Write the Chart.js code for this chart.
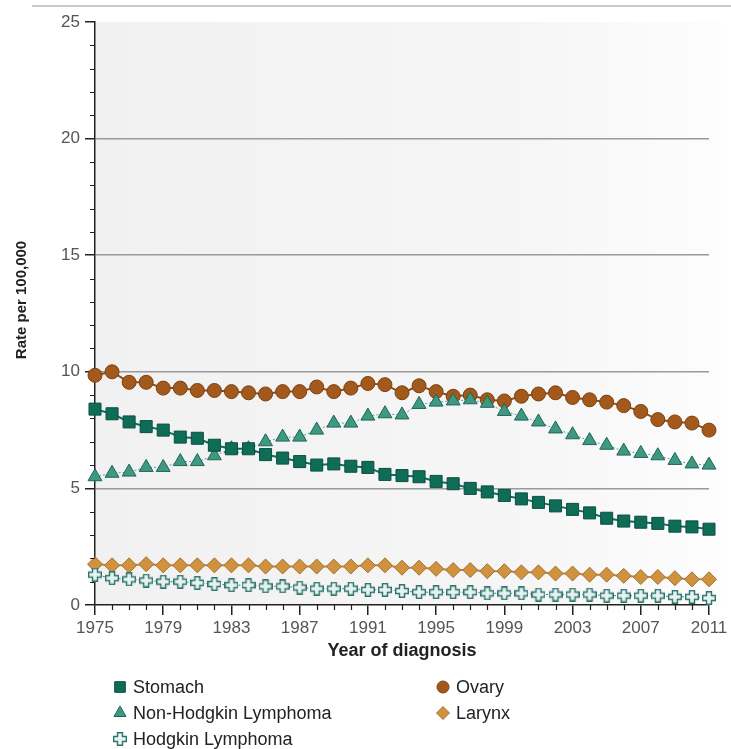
<!DOCTYPE html>
<html>
<head>
<meta charset="utf-8">
<script src="https://cdn.jsdelivr.net/npm/chart.js@4.4.1/dist/chart.umd.min.js"></script>
<style>
  html, body { margin: 0; padding: 0; background: #fff; }
  #wrap { width: 731px; height: 749px; }
</style>
</head>
<body>
<div id="wrap"><canvas id="c" width="731" height="749"></canvas></div>
<script>
// Cancer incidence rates by year of diagnosis, 1975-2011.

const years = [1975, 1976, 1977, 1978, 1979, 1980, 1981, 1982, 1983, 1984,
               1985, 1986, 1987, 1988, 1989, 1990, 1991, 1992, 1993, 1994,
               1995, 1996, 1997, 1998, 1999, 2000, 2001, 2002, 2003, 2004,
               2005, 2006, 2007, 2008, 2009, 2010, 2011];

const stomach = [8.4, 8.2, 7.85, 7.65, 7.5, 7.2, 7.15, 6.85, 6.7, 6.7,
                 6.45, 6.3, 6.15, 6.0, 6.05, 5.95, 5.9, 5.6, 5.55, 5.5,
                 5.3, 5.2, 5.0, 4.85, 4.7, 4.55, 4.4, 4.25, 4.1, 3.95,
                 3.72, 3.6, 3.55, 3.5, 3.38, 3.35, 3.25];
const nhl = [5.5, 5.65, 5.7, 5.9, 5.9, 6.15, 6.15, 6.4, 6.7, 6.7,
             7.0, 7.2, 7.2, 7.5, 7.8, 7.8, 8.1, 8.2, 8.15, 8.6,
             8.7, 8.75, 8.8, 8.65, 8.3, 8.1, 7.85, 7.55, 7.3, 7.05,
             6.85, 6.6, 6.5, 6.4, 6.2, 6.05, 6.0];
const hodgkin = [1.3, 1.15, 1.1, 1.05, 1.0, 1.0, 0.95, 0.9, 0.85, 0.85,
                 0.8, 0.8, 0.75, 0.7, 0.7, 0.7, 0.65, 0.65, 0.6, 0.55,
                 0.55, 0.55, 0.55, 0.5, 0.5, 0.5, 0.45, 0.45, 0.45, 0.45,
                 0.4, 0.4, 0.4, 0.4, 0.35, 0.35, 0.3];
const ovary = [9.85, 10.0, 9.55, 9.55, 9.3, 9.3, 9.2, 9.2, 9.15, 9.1,
               9.05, 9.15, 9.15, 9.35, 9.15, 9.3, 9.5, 9.45, 9.1, 9.4,
               9.15, 8.95, 9.0, 8.8, 8.75, 8.95, 9.05, 9.1, 8.9, 8.8,
               8.7, 8.55, 8.3, 7.95, 7.85, 7.8, 7.5];
const larynx = [1.75, 1.7, 1.7, 1.75, 1.7, 1.7, 1.7, 1.7, 1.7, 1.7,
                1.65, 1.65, 1.65, 1.65, 1.65, 1.65, 1.7, 1.7, 1.6, 1.6,
                1.55, 1.5, 1.5, 1.45, 1.45, 1.4, 1.4, 1.35, 1.35, 1.3,
                1.3, 1.25, 1.2, 1.2, 1.15, 1.1, 1.1];

const FONT = "'Liberation Sans', Arial, sans-serif";

function makeCross(size, bar, fill, stroke) {
  const c = document.createElement('canvas');
  c.width = c.height = size;
  const g = c.getContext('2d');
  const a = (size - bar) / 2, b = a + bar, s = 0.7, e = size - 0.7;
  g.beginPath();
  g.moveTo(a, s); g.lineTo(b, s); g.lineTo(b, a); g.lineTo(e, a);
  g.lineTo(e, b); g.lineTo(b, b); g.lineTo(b, e); g.lineTo(a, e);
  g.lineTo(a, b); g.lineTo(s, b); g.lineTo(s, a); g.lineTo(a, a);
  g.closePath();
  g.fillStyle = fill; g.fill();
  g.lineWidth = 1.4; g.strokeStyle = stroke; g.stroke();
  return c;
}
const crossImg = makeCross(14, 5, '#e6f3f0', '#2f736e');

const pts = vals => years.map((x, i) => ({ x, y: vals[i] }));

function series(label, vals, style, radius, fill, border, line, dash) {
  return {
    label, data: pts(vals), clip: false,
    pointStyle: style, pointRadius: radius, pointHoverRadius: radius,
    pointBackgroundColor: fill, pointBorderColor: border, pointBorderWidth: 1,
    borderColor: line, borderWidth: dash ? 1 : 2, borderDash: dash || [],
    tension: 0, fill: false,
  };
}

const datasets = [
  series('Stomach', stomach, 'rect', 8.5, '#0f6d57', '#0a4f40', '#0e6b55'),
  series('Non-Hodgkin Lymphoma', nhl, 'triangle', 8, '#3f9982', '#1d6655', '#5aa593', [2, 2]),
  series('Hodgkin Lymphoma', hodgkin, crossImg, 7, '#e6f3f0', '#2f736e', '#3a8580', [2, 2]),
  series('Ovary', ovary, 'circle', 7, '#a3581c', '#7a4212', '#8a4c18'),
  series('Larynx', larynx, 'rectRot', 7.5, '#d0923f', '#a0722e', '#c08a45'),
];

// legend layout: [dataset index, column x, row y]
const legendSlots = [[0, 120, 687], [3, 443, 687], [1, 120, 713], [4, 443, 713], [2, 120, 739]];

const decor = {
  id: 'decor',
  beforeDraw(chart) {
    const { ctx, chartArea: a } = chart;
    ctx.save();
    ctx.fillStyle = '#c9c9c9';
    ctx.fillRect(32, 5, 699, 2);
    const g = ctx.createLinearGradient(a.left, 0, a.right + 12, 0);
    g.addColorStop(0, '#f1f1f1');
    g.addColorStop(0.7, '#f6f6f6');
    g.addColorStop(1, '#fdfdfd');
    ctx.fillStyle = g;
    ctx.fillRect(a.left, a.top, a.right - a.left + 12, a.bottom - a.top);
    ctx.restore();
  },
  afterDraw(chart) {
    const { ctx } = chart;
    const xs = chart.scales.x, ys = chart.scales.y;
    ctx.save();
    // minor ticks
    ctx.strokeStyle = '#222';
    ctx.lineWidth = 1.2;
    ctx.beginPath();
    years.filter(y => (y - 1975) % 4 !== 0).forEach(y => {
      const px = Math.round(xs.getPixelForValue(y)) + 0.5;
      ctx.moveTo(px, ys.bottom); ctx.lineTo(px, ys.bottom + 5);
    });
    for (let v = 1; v < 25; v++) {
      if (v % 5 === 0) continue;
      const py = Math.round(ys.getPixelForValue(v)) + 0.5;
      ctx.moveTo(xs.left - 5, py); ctx.lineTo(xs.left, py);
    }
    ctx.stroke();
    // y title
    ctx.fillStyle = '#222';
    ctx.font = 'bold 15px ' + FONT;
    ctx.textAlign = 'center';
    ctx.textBaseline = 'middle';
    ctx.translate(22, 300);
    ctx.rotate(-Math.PI / 2);
    ctx.fillText('Rate per 100,000', 0, 0);
    ctx.restore();
    // legend
    ctx.save();
    ctx.font = '18px ' + FONT;
    ctx.textAlign = 'left';
    ctx.textBaseline = 'middle';
    legendSlots.forEach(([i, x, y]) => {
      const ds = datasets[i];
      ctx.fillStyle = ds.pointBackgroundColor;
      ctx.strokeStyle = ds.pointBorderColor;
      ctx.lineWidth = 1;
      Chart.helpers.drawPoint(ctx, { pointStyle: ds.pointStyle, radius: ds.pointRadius - 1, rotation: 0, borderWidth: 1 }, x, y);
      ctx.fillStyle = '#222';
      ctx.fillText(ds.label, x + 13, y + 1);
    });
    ctx.restore();
  },
};

new Chart(document.getElementById('c'), {
  type: 'line',
  data: { datasets },
  options: {
    responsive: false, animation: false, devicePixelRatio: 1,
    layout: { padding: { left: 0, right: 22, top: 22, bottom: 87 } },
    plugins: { legend: { display: false }, tooltip: { enabled: false } },
    scales: {
      x: {
        type: 'linear', min: 1975, max: 2011,
        ticks: { stepSize: 4, color: '#555', font: { size: 17, family: FONT }, padding: 3,
                 maxRotation: 0, autoSkip: false, callback: v => String(v) },
        grid: { drawOnChartArea: false, tickLength: 10, tickColor: '#222', lineWidth: 1.5 },
        border: { color: '#222', width: 1.5 },
        title: { display: true, text: 'Year of diagnosis', color: '#222',
                 font: { size: 18, weight: 'bold', family: FONT }, padding: 0 },
        afterFit: s => { s.height = 57; },
      },
      y: {
        min: 0, max: 25,
        ticks: { stepSize: 5, color: '#555', font: { size: 17, family: FONT }, padding: 5 },
        grid: {
          color: c => (c.tick && c.tick.value > 0 && c.tick.value < 25) ? '#9a9a9a' : 'rgba(0,0,0,0)',
          tickColor: '#222', tickLength: 10, lineWidth: 1.5,
        },
        border: { color: '#222', width: 1.5 },
        afterFit: s => { s.width = 95; },
      },
    },
  },
  plugins: [decor],
});
</script>
</body>
</html>
